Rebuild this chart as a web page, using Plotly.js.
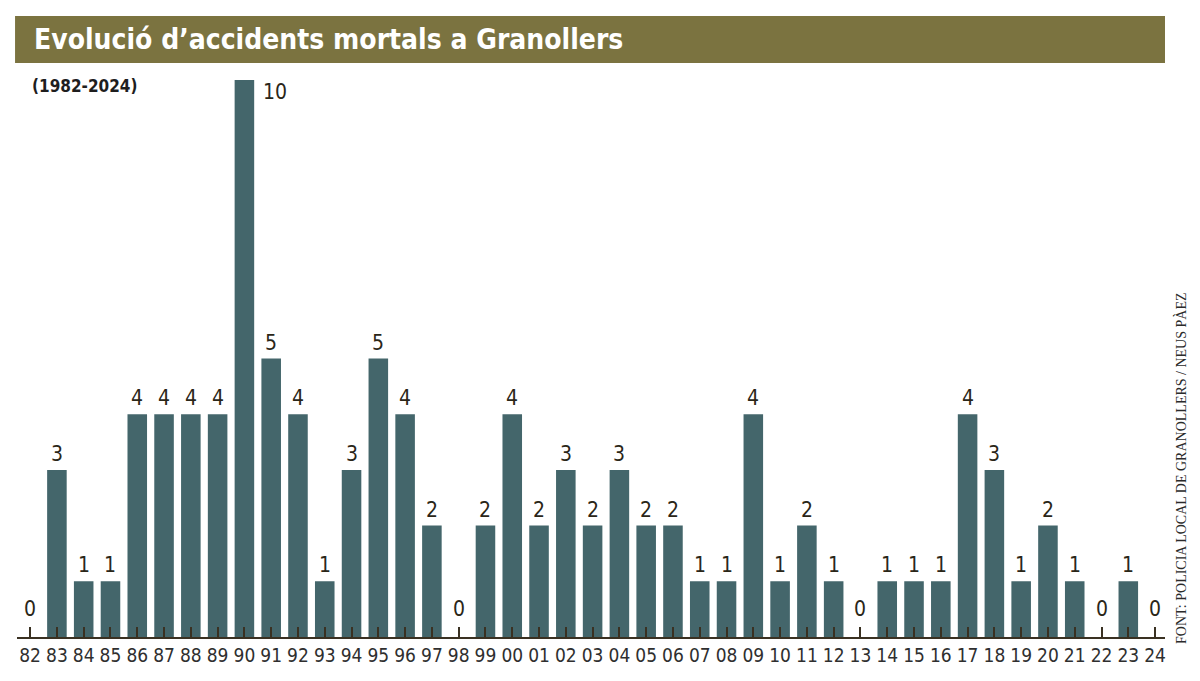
<!DOCTYPE html>
<html>
<head>
<meta charset="utf-8">
<script src="https://cdn.plot.ly/plotly-3.0.1.min.js"></script>
<style>html,body{margin:0;padding:0;background:#fff;}#chart{width:1200px;height:681px;}</style>
</head>
<body>
<div id="chart"></div>
<script>
const years = ["82","83","84","85","86","87","88","89","90","91","92","93","94","95","96","97","98","99","00","01","02","03","04","05","06","07","08","09","10","11","12","13","14","15","16","17","18","19","20","21","22","23","24"];
const deaths = [0,3,1,1,4,4,4,4,10,5,4,1,3,5,4,2,0,2,4,2,3,2,3,2,2,1,1,4,1,2,1,0,1,1,1,4,3,1,2,1,0,1,0];
const titleText = "Evolució d’accidents mortals a Granollers";
const subtitleText = "(1982-2024)";
const sourceText = "FONT: POLICIA LOCAL DE GRANOLLERS / NEUS PÀEZ";

const narrow = "Liberation Sans Narrow, DejaVu Sans Condensed, Roboto, sans-serif";
const maxVal = Math.max(...deaths);
const maxIdx = deaths.indexOf(maxVal);

const trace = {
  type: "bar",
  x: years.map((_, i) => i),
  y: deaths,
  marker: {color: "#44666b", line: {width: 0}},
  hoverinfo: "y"
};

const valueAnnotations = deaths.map((v, i) => {
  const isMax = i === maxIdx;
  return {
    x: i, y: v, xref: "x", yref: "y",
    xanchor: isMax ? "left" : "center",
    yanchor: isMax ? "top" : "bottom",
    xshift: isMax ? 17 : 0,
    yshift: isMax ? 2 : (v === 0 ? 14 : 2),
    showarrow: false, text: String(v),
    font: {family: narrow, size: 21, color: "#2a2618"}
  };
});

const layout = {
  width: 1200, height: 681,
  margin: {l: 17, r: 35, t: 70, b: 44},
  paper_bgcolor: "#ffffff",
  plot_bgcolor: "#ffffff",
  showlegend: false,
  bargap: 0.27,
  xaxis: {
    type: "linear",
    range: [-0.49, 42.37],
    tickmode: "array",
    tickvals: years.map((_, i) => i),
    ticktext: years,
    showline: true, linecolor: "#3a3122", linewidth: 2,
    ticks: "inside", ticklen: 10, tickwidth: 2, tickcolor: "#3a3122",
    tickfont: {family: narrow, size: 19, color: "#2f2f2f"},
    showgrid: false, zeroline: false, fixedrange: true
  },
  yaxis: {
    range: [0, 10.18],
    visible: false, showgrid: false, zeroline: false, fixedrange: true
  },
  shapes: [{
    type: "rect", xref: "paper", yref: "paper",
    x0: -0.0017, x1: 1.0, y0: 1.0123, y1: 1.0952,
    fillcolor: "#7b7340", line: {width: 0}, layer: "below"
  }],
  annotations: valueAnnotations.concat([
    {
      xref: "paper", yref: "paper", x: 0.013, y: 1.0537,
      xanchor: "left", yanchor: "middle", showarrow: false,
      text: "<b>" + titleText + "</b>",
      font: {family: narrow, size: 28, color: "#ffffff"}
    },
    {
      xref: "paper", yref: "paper", x: 0.011, y: 0.972,
      xanchor: "left", yanchor: "middle", showarrow: false,
      text: "<b>" + subtitleText + "</b>",
      font: {family: narrow, size: 17, color: "#1e1e1e"}
    },
    {
      xref: "paper", yref: "paper", x: 1.0139, y: 0.298,
      xanchor: "center", yanchor: "middle", showarrow: false,
      textangle: -90, text: sourceText,
      font: {family: "Liberation Serif, DejaVu Serif, serif", size: 14, color: "#2a2a2a"}
    }
  ])
};

Plotly.newPlot("chart", [trace], layout, {displayModeBar: false, staticPlot: true});
</script>
</body>
</html>
